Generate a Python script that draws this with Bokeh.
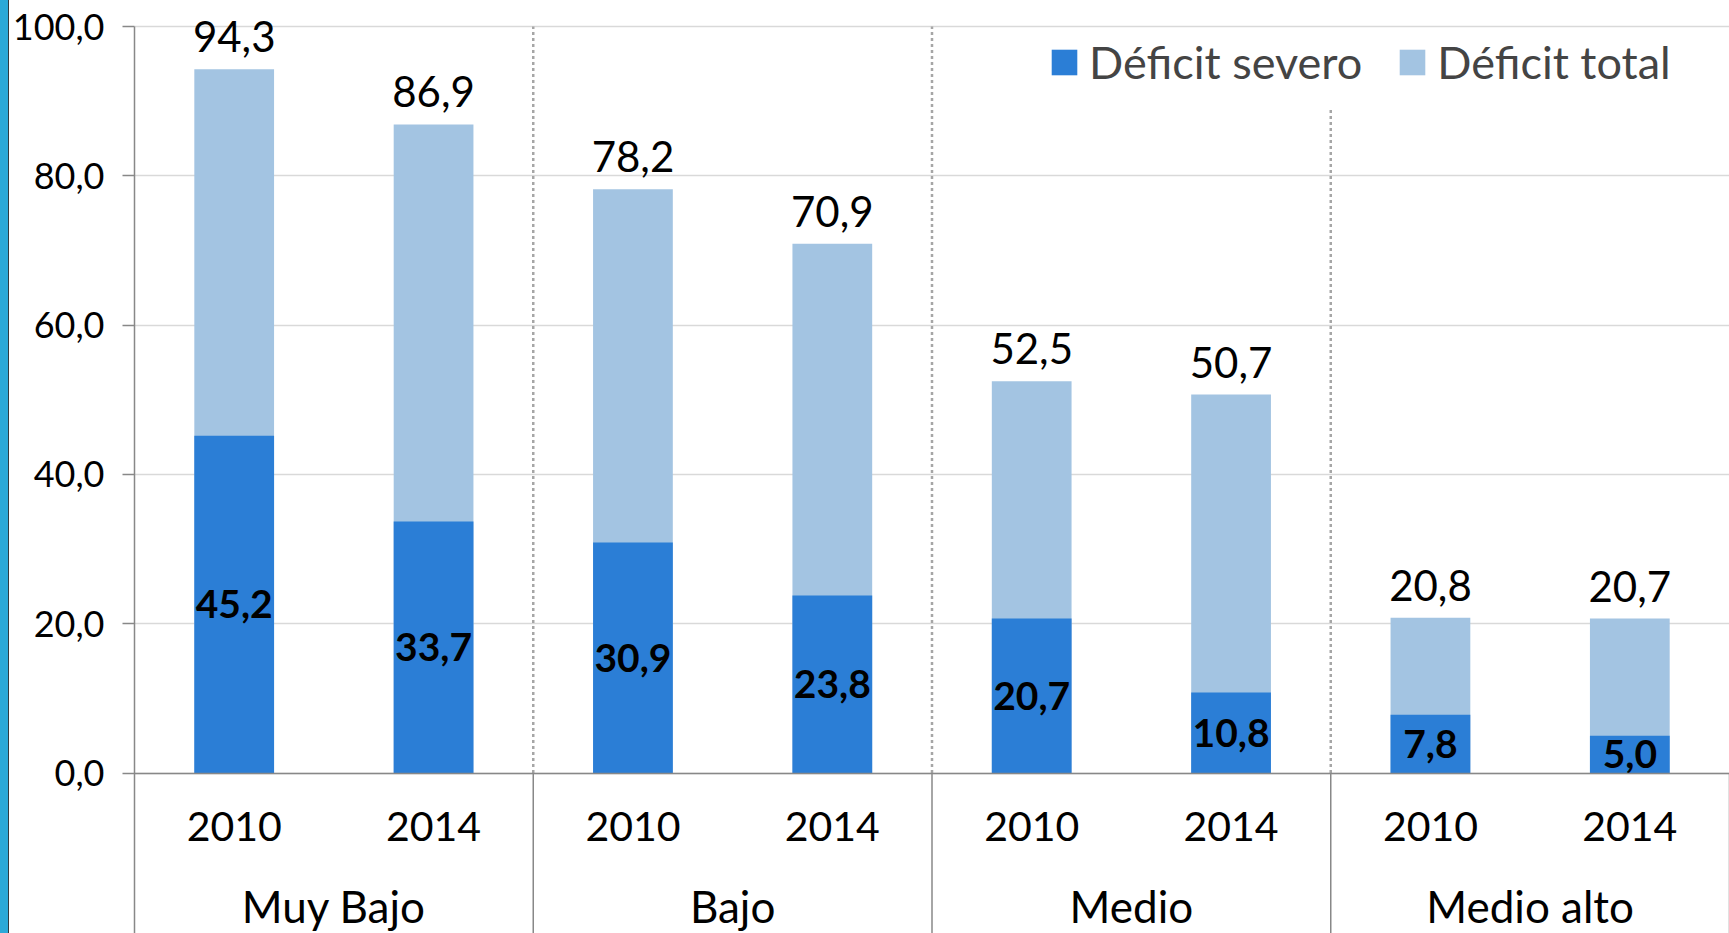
from bokeh.plotting import figure
from bokeh.models import (FactorRange, ColumnDataSource, FixedTicker, Legend, LegendItem,
                          CategoricalAxis, Div)
from bokeh.layouts import row
from bokeh.core.properties import value
from bokeh.embed import file_html
from bokeh.resources import INLINE

groups = ["Muy Bajo", "Bajo", "Medio", "Medio alto"]
years = ["2010", "2014"]
deficit_total = [94.3, 86.9, 78.2, 70.9, 52.5, 50.7, 20.8, 20.7]
deficit_severo = [45.2, 33.7, 30.9, 23.8, 20.7, 10.8, 7.8, 5.0]
y_ticks = [0, 20, 40, 60, 80, 100]
y_tick_labels = ["0,0", "20,0", "40,0", "60,0", "80,0", "100,0"]

FONT = "Lato"
DARK = "#2b7ed6"
LIGHT = "#a3c4e2"
AXIS_GREY = "#888888"
Y_MIN = -21.5   # room below the zero line for the category labels
Y_MAX = 103.5   # room above 100 for the top value label

factors = [(g, y) for g in groups for y in years]
fmt = lambda v: f"{v:.1f}".replace(".", ",")

src = ColumnDataSource(dict(
    x=factors,
    total=deficit_total,
    severo=deficit_severo,
    half=[v / 2 for v in deficit_severo],
    total_lbl=[fmt(v) for v in deficit_total],
    severo_lbl=[fmt(v) for v in deficit_severo],
))

p = figure(
    x_range=FactorRange(*factors, factor_padding=0, group_padding=0, range_padding=0),
    y_range=(Y_MIN, Y_MAX),
    width=1720, height=933,
    output_backend="svg", toolbar_location=None,
    min_border_left=125, min_border_right=0, min_border_top=0, min_border_bottom=0,
    x_axis_location=None,
)
p.outline_line_color = None
p.background_fill_color = "white"

# dotted separators between groups inside the plot area
sep_x = [(groups[i], years[-1], 0.5) for i in range(len(groups) - 1)]
sep_top = [100, 100, 89]
p.segment(x0=sep_x, y0=[0] * 3, x1=sep_x, y1=sep_top,
          line_color="#a6a6a6", line_width=2.5, line_dash="3 3")

# solid separators under the category axis
sol_x = [(g, years[-1], 0.5) for g in groups]
p.segment(x0=sol_x, y0=[Y_MIN] * len(sol_x), x1=sol_x, y1=[0] * len(sol_x),
          line_color=AXIS_GREY, line_width=1.5)

r_total = p.vbar(x="x", top="total", width=0.4, source=src, fill_color=LIGHT, line_color=None)
r_sev = p.vbar(x="x", top="severo", width=0.4, source=src, fill_color=DARK, line_color=None)

p.text(x="x", y="total", text="total_lbl", source=src, text_align="center",
       text_baseline="bottom", y_offset=-17, text_font=value(FONT),
       text_font_size="42px", text_color="black")
p.text(x="x", y="half", text="severo_lbl", source=src, text_align="center",
       text_baseline="middle", text_font=value(FONT), text_font_style="bold",
       text_font_size="39px", text_color="black")

# y axis
p.yaxis.ticker = FixedTicker(ticks=y_ticks)
p.yaxis.bounds = (Y_MIN, 100)
p.yaxis.major_label_overrides = {t: l for t, l in zip(y_ticks, y_tick_labels)}
p.yaxis.major_label_text_font = FONT
p.yaxis.major_label_text_font_size = "36px"
p.yaxis.major_label_text_color = "black"
p.yaxis.major_tick_out = 12
p.yaxis.major_tick_in = 0
p.yaxis.minor_tick_line_color = None
p.yaxis.major_label_standoff = 18
p.yaxis.axis_line_color = AXIS_GREY
p.yaxis.major_tick_line_color = AXIS_GREY
p.yaxis.axis_line_width = 1.5
p.yaxis.major_tick_line_width = 1.5

# x axis (years) fixed at zero
xa = CategoricalAxis(fixed_location=0)
xa.major_label_text_font = FONT
xa.major_label_text_font_size = "41px"
xa.major_label_text_color = "black"
xa.group_text_alpha = 0
xa.group_text_font_size = "1px"
xa.separator_line_color = None
xa.major_tick_line_color = None
xa.axis_line_color = AXIS_GREY
xa.axis_line_width = 1.5
xa.major_label_standoff = 33
p.add_layout(xa, "below")

# group label axis
p.extra_x_ranges["grp"] = FactorRange(*groups, factor_padding=0, range_padding=0)
ga = CategoricalAxis(x_range_name="grp", fixed_location=0)
ga.major_label_text_font = FONT
ga.major_label_text_font_size = "44px"
ga.major_label_text_color = "black"
ga.major_tick_line_color = None
ga.axis_line_color = None
ga.major_label_standoff = 101
p.add_layout(ga, "below")

p.xgrid.grid_line_color = None
p.ygrid.grid_line_color = "#d9d9d9"
p.ygrid.grid_line_width = 1.5

legend = Legend(items=[LegendItem(label="Déficit severo", renderers=[r_sev]),
                       LegendItem(label="Déficit total", renderers=[r_total])],
                orientation="horizontal", location=(914, 844),
                label_text_font=FONT, label_text_font_size="45px",
                glyph_width=32, glyph_height=32, label_standoff=9, spacing=34,
                border_line_color=None, background_fill_alpha=0, padding=0, margin=0)
p.add_layout(legend)

strip = Div(width=9, height=933, margin=0, styles={
    "background": "linear-gradient(to right, #2ba9d8 0px, #2ba9d8 8px, #2f3a40 8px, #2f3a40 9px)"})

layout = row(strip, p, spacing=0)
open("out.html", "w").write(file_html(layout, INLINE))
